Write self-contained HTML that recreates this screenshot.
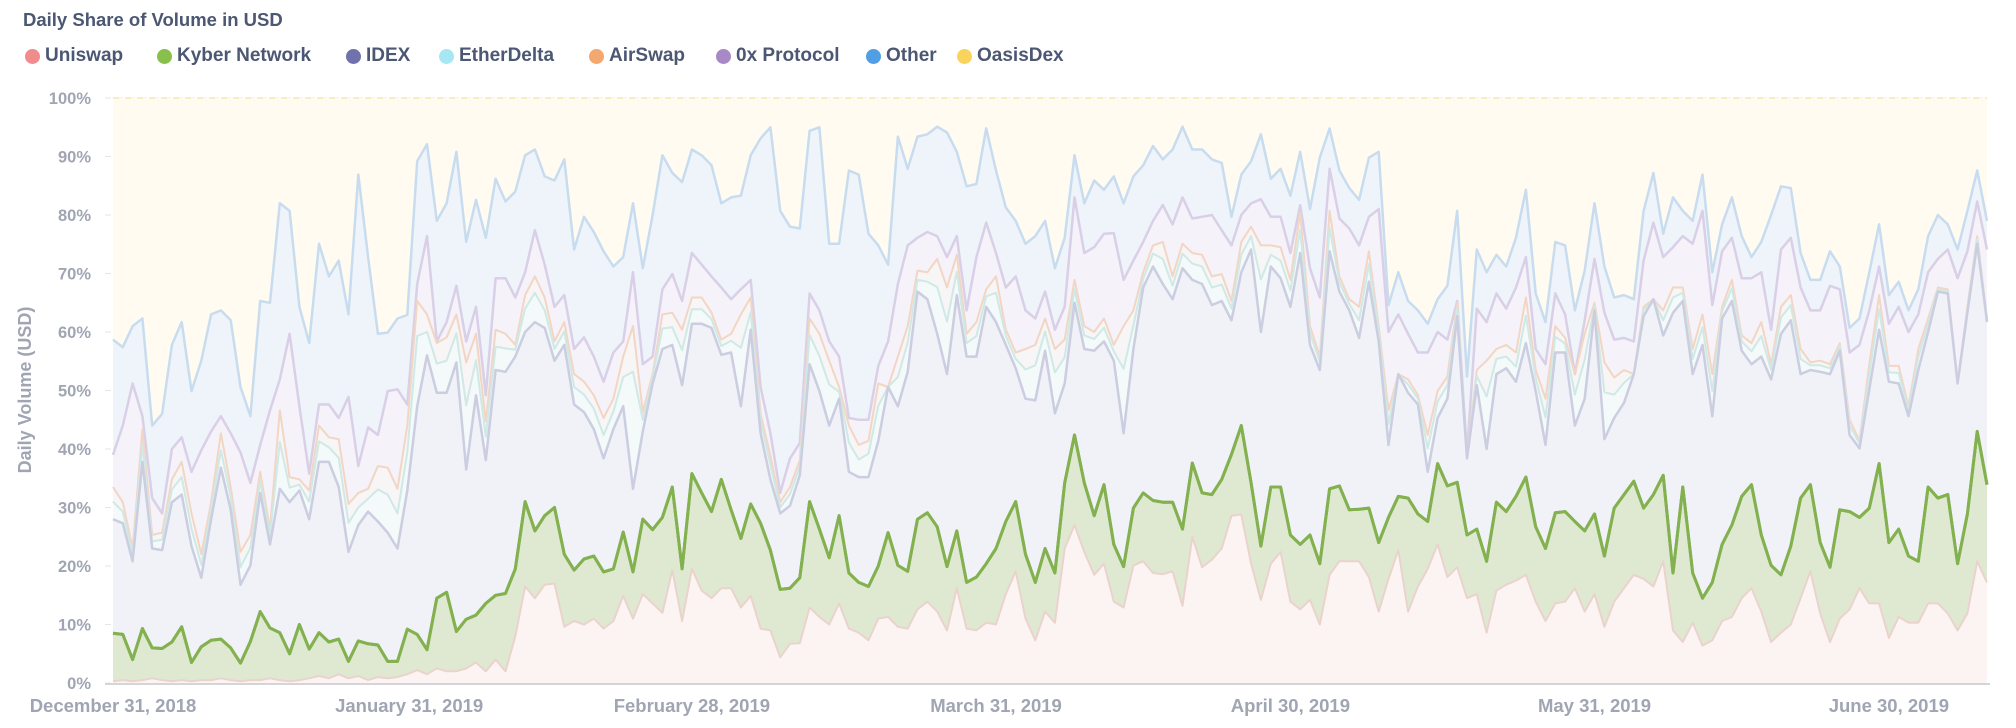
<!DOCTYPE html>
<html>
<head>
<meta charset="utf-8">
<style>
  html,body{margin:0;padding:0;background:#fff;}
  body{width:2016px;height:728px;overflow:hidden;position:relative;font-family:"Liberation Sans",sans-serif;}
  .title{position:absolute;left:23px;top:9px;font-size:18.5px;font-weight:bold;color:#4c5773;}
  .legend{position:absolute;left:0;top:45px;height:24px;}
  .lg{position:absolute;top:0;display:flex;align-items:center;font-size:19px;font-weight:bold;color:#4c5773;white-space:nowrap;}
  .dot{width:15px;height:15px;border-radius:50%;margin-right:5px;display:inline-block;}
</style>
</head>
<body>
<div class="title">Daily Share of Volume in USD</div>
<div class="legend">
  <div class="lg" style="left:25px"><span class="dot" style="background:#ef8c8c"></span>Uniswap</div>
  <div class="lg" style="left:157px"><span class="dot" style="background:#88bf4d"></span>Kyber Network</div>
  <div class="lg" style="left:346px"><span class="dot" style="background:#7172ad"></span>IDEX</div>
  <div class="lg" style="left:439px"><span class="dot" style="background:#a6e7f3"></span>EtherDelta</div>
  <div class="lg" style="left:589px"><span class="dot" style="background:#f2a86f"></span>AirSwap</div>
  <div class="lg" style="left:716px"><span class="dot" style="background:#a989c5"></span>0x Protocol</div>
  <div class="lg" style="left:866px"><span class="dot" style="background:#509ee3"></span>Other</div>
  <div class="lg" style="left:957px"><span class="dot" style="background:#f9d45c"></span>OasisDex</div>
</div>
<svg id="chart" width="2016" height="728" style="position:absolute;left:0;top:0"></svg>
<script>
// Stacked cumulative share levels (% of daily USD volume), one value per day from Dec 31, 2018
const uniswapCum = [0.3,0.5,0.3,0.5,0.8,0.5,0.3,0.5,0.3,0.5,0.5,0.8,0.5,0.3,0.5,0.5,0.8,0.5,0.3,0.5,0.8,1.2,0.8,1.5,0.8,1.2,0.5,1,0.8,1,1.5,2.2,1.5,2.5,2,2,2.5,3.5,
2,4,2,8,16.5,14.5,16.8,17,9.6,10.6,10,11,9.3,10.6,14.9,11,15.2,13.6,12,19.3,10.6,19.5,15.8,14.5,16.2,16.2,12.9,14.9,9.3,9,4.4,6.7,6.8,12.9,11.3,10,13.6,9.3,8.6,
7.3,11,11.3,9.6,9.3,12.6,13.9,12.2,9,16.2,9.3,9,10.3,10,15.2,19.1,11,7.3,12.2,10.3,23,27,22.4,18.5,20.4,13.9,12.9,20.1,20.8,18.8,18.6,19.1,13.2,25,19.8,21.1,23,28.6,28.8,20.4,
14.2,20.4,22.4,13.9,12.6,14.2,10,18.5,20.8,20.8,20.8,18.1,12.2,17.8,22.7,12.2,16.5,19.5,23.7,18.1,19.8,14.5,15.2,8.6,15.8,16.8,17.5,18.5,13.9,10.6,13.6,13.9,16.2,12.2,15.2,9.6,13.9,
16.2,18.5,17.8,16.5,20.8,9,7,10.3,6.4,7.3,10.6,11.3,14.5,16.2,12.2,7,8.6,10,14.5,19.1,11.9,7,11,12.6,16.2,13.6,13.6,7.7,11.3,10.3,10.3,13.6,13.6,11.9,9,11.9,20.8,17.2];
const kyberCum = [8.5,8.3,4,9.3,6,5.9,7,9.6,3.5,6.2,7.3,7.5,6,3.4,7.1,12.2,9.4,8.6,5,10,5.8,8.6,7,7.5,3.7,7.2,6.7,6.5,3.7,3.7,9.2,8.3,5.7,14.5,15.5,8.8,10.9,11.6,13.6,15,
15.3,19.5,31,26,28.6,30,22,19.3,21.2,21.7,19,19.5,25.8,19,28,26.2,28.3,33.5,19.5,35.8,32.5,29.3,34.8,29.6,24.7,30.6,27.3,22.7,16,16.2,18,31,26.3,21.4,28.6,18.8,17.2,16.5,20,
25.7,20.1,19.1,28,29.1,26.7,19.9,26,17.2,18.1,20.4,23,27.6,31,22,17.2,23,18.8,34.2,42.4,34.2,28.6,33.9,23.7,19.9,29.9,32.5,31.2,30.9,30.9,26.3,37.6,32.5,32.2,34.8,39.1,44,34.2,
23.4,33.5,33.5,25.3,23.7,25.3,20.4,33.2,33.7,29.6,29.7,29.9,24,28.3,31.9,31.6,28.9,27.6,37.5,33.7,34.3,25.3,26.3,20.8,30.9,29.3,31.9,35.2,26.7,23,29.1,29.3,27.6,26,28.9,21.7,29.9,
32.2,34.5,29.9,32.2,35.5,18.8,33.5,18.8,14.5,17.2,23.7,27,31.9,33.9,25.3,20.1,18.5,23.4,31.6,33.9,24,19.8,29.6,29.3,28.3,29.9,37.5,24,26.3,21.7,20.8,33.5,31.6,32.2,20.4,28.9,43,33.9];
const idexCum = [28,27.3,20.8,37.8,23,22.7,30.9,32.2,23.4,18,28,36.8,29.6,16.8,20.1,32.5,23.7,33.2,30.9,32.9,28,37.8,37.8,33.5,22.4,27,29.3,27.6,25.7,23,32.9,47.3,56,49.6,49.6,54.8,36.5,49.2,38.1,53.5,
53.2,55.8,60,61.7,60.7,55.1,57.8,47.6,46.3,43.4,38.4,43.4,47.3,33.2,43,51.2,57.1,57.8,50.9,61.4,61.4,60.7,56.1,56.5,47.3,60.4,42.7,34.8,29,30.3,35.5,54.5,49.9,44,48.6,36.1,35.2,
35.2,41.4,50.6,47.3,53.2,66.9,65.6,59.7,52.8,66.3,55.8,55.8,64.3,61.7,57.8,53.8,48.6,48.3,56.8,46.1,51.2,65,57.1,56.8,58.4,55.1,42.7,57.1,67.6,71.2,68.2,65.6,70.9,68.9,68.2,64.6,65.3,62,70.2,74.1,
60,71.2,69.2,64.3,73.5,57.8,53.5,73.8,66.9,63.7,59,68.6,58.4,40.7,52.8,49.6,47.6,36.1,45.3,48.6,62.7,38.4,50.9,40,52.8,53.8,51.5,58.1,49.9,40.7,56.5,56.5,44,48.6,63.7,41.7,45.3,
47.9,52.8,62.7,65.6,59.4,63.3,65.3,52.8,57.8,45.6,62.3,65.3,56.8,54.5,55.8,51.9,59.7,62,52.8,53.5,53.2,52.8,56.8,42.4,40.1,50.2,60.4,51.5,51.2,45.6,53.5,60,66.9,66.6,51.2,63.3,75.1,61.7];
const etherDeltaShare = [3,2,1.2,3,1.2,1.8,2.2,3,3,2.2,1.6,3,2.2,3,3,2,1.5,8,2.5,1,3,3.5,2.5,5,5,3,2.2,5.5,6.5,6,6.5,12,4,5,5.5,5,11,6,4,4,
4,1.2,4,5,3,2,2.3,3,3,3.5,4,3,5,20,2,1,3.5,3,6,2.5,2.5,1.5,1.5,2,10,3,2,2.5,1,2,1.5,5,6,7,1.2,5,3,
4,6,0,5,5,2,3,8,9,4,2.3,3.5,1.8,5,1.5,1.6,5,6,3.3,7,4.5,2.3,2.3,2,2.3,1.6,11,4,1.5,2.2,4.3,2.3,2.5,2.8,3,3,2.8,2,3,2.3,
9,2,3,2.8,4,2,1.4,4,1.6,1.1,3,3,1.6,3.5,0,1.4,1,4,2.8,2.3,1.4,0.2,1.6,9,2.6,2,2.6,4.7,2.2,4.7,2.7,1.5,5.3,6.7,0.8,8,4,
3.4,0,1,0,2.6,2.6,1.4,2.6,3,4.3,1.2,2.2,1.6,2.2,3.5,1.6,2.8,2.6,2.6,0.8,1.1,1,0.8,1.6,0.8,2.6,3.5,1.6,1.8,1,2.2,1.4,0.4,0.4,0.2,0.6,0.8,0.4];
const airSwapCum = [33.5,30.9,23,43.4,25.3,25.7,34.8,37.8,29,22,30.9,42.7,33.5,22.4,25.3,36.1,26.3,46.6,35.2,34.8,32.9,44,42,41.7,30.6,32.5,33.2,37.1,36.8,33.2,44,65.3,63,58.1,59.1,63,54.8,59.7,44.7,60.4,
59.7,57.8,66.3,69.5,65.9,58.4,61.7,52.8,51.5,49.2,45.3,48.6,55.8,61,46.3,52.8,63,63.3,60.4,65.9,65.9,63.3,58.7,59.7,63,65.9,46,38.8,30.9,33.5,38.1,62.3,59.7,55.1,50.6,44,40.7,
41.4,51.2,49.9,55.8,61,70.5,70.2,72.5,67.6,73.2,59.7,61.7,67.3,69.5,60.4,56.5,57.1,57.8,62.3,57.1,58.7,68.9,61,60,62.3,57.8,61,63.7,70.2,74.8,75.4,69.5,75.1,73.5,73.2,69.5,69.9,65.3,75.4,78,
74.8,74.8,74.5,68.9,80.4,61,55.8,80.7,69.5,65.6,64.3,73.8,61,46.6,52.8,51.9,49.2,42.4,49.9,52.4,65,38.8,53.5,55.1,57.1,57.8,56.5,65.9,53.5,48.6,61,59,52.8,59.7,65,54.8,52.2,
53.5,51.9,64.3,65.6,63.7,67.6,67.6,57.1,63,52.8,64.3,68.9,59.4,58.1,61.7,54.5,64.3,66.3,57.1,54.8,55.1,54.5,58.1,45,41.4,54.5,66.3,54.2,54.2,47.3,57.1,62.3,67.6,67.3,51.5,64.3,76.4,62.3];
const zeroExCum = [39,44,51.2,45.6,31.6,29,40,42,36.1,39.8,43,45.6,42.7,39.4,34.2,40.7,46.6,51.9,59.7,47.3,35.8,47.6,47.6,45.3,48.9,37.1,43.7,42.4,49.9,50.2,47.6,68.2,76.4,58.4,61.7,67.9,58.4,64.3,49.2,69.2,
69.2,65.9,70.2,77.4,71.5,64.3,66.3,57.1,59.1,55.8,51.5,56.5,58.4,70.2,54.5,55.8,67.3,69.9,65.3,73.5,71.5,69.5,67.6,65.6,67.3,68.9,50.6,42.7,32.5,38.4,41,66.6,63.7,58.4,55.8,45.3,45,
45,54.2,58.4,68.2,74.8,76.1,77.1,76.4,72.8,76.4,63.7,72.8,78.7,73.5,67.6,69.5,63.7,62.3,66.9,60.4,64.3,83,73.5,74.5,76.8,76.9,68.9,72.2,75.4,79,81.7,78.4,83,79.4,79.7,80,77.4,74.8,80,82,
82.7,79.7,79.7,73.5,81.7,70.9,65.9,87.9,79.4,77.7,74.8,79.7,81,60,63,59.7,56.5,56.5,60,58.7,65.3,39.1,64,61.7,66.6,64,67.6,72.8,57.1,54.5,66.6,63,52.4,62,72.5,63.3,58.7,
59,58.4,72.2,78.7,72.8,74.5,76.4,75.1,80.7,64.6,73.8,76.1,69.2,69.2,70.2,60.4,74.1,76.1,67.6,63.7,63.7,67.9,67.3,56.5,57.8,63.7,71.2,61.4,64.3,60,63,70.2,72.5,74.1,69.2,73.8,82.3,74.1];
const otherCum = [58.7,57.4,61,62.3,44,46,57.8,61.7,49.9,55.1,63,63.7,62,50.6,45.6,65.3,65,82,80.7,64.3,58.1,75.1,69.5,72.2,63,86.9,72.8,59.7,59.9,62.3,62.9,89.2,92.1,79,82,90.8,75.4,82.6,76.1,86.2,
82.3,84,90.2,91.2,86.6,85.9,89.5,74.1,79.7,77.1,73.8,71.2,72.8,82,70.9,80,90.2,87.2,85.6,91.2,90.2,88.5,82,83,83.3,90.2,93.1,95,80.7,78,77.7,94.4,95,75.1,75.1,87.6,86.9,
76.8,74.8,71.5,93.4,87.9,93.4,93.8,95.1,94.1,90.8,84.9,85.3,94.8,87.6,81.3,79,75.1,76.4,79,70.9,76.1,90.2,82,85.9,84.3,86.6,82,86.6,88.5,91.8,89.5,91.2,95.1,91.2,91.2,89.5,88.9,79.7,86.9,89.2,
93.8,86.2,87.9,83.3,90.8,81,89.8,94.8,87.6,84.6,82.6,89.8,90.8,64.6,70.2,65.3,63.7,61.4,65.6,67.9,80.7,52.4,74.1,70.2,73.2,71.2,76.1,84.3,66.6,61.7,75.4,74.8,63.7,70.5,82,71.2,65.9,
66.3,65.6,80.7,87.2,76.8,83,80.7,79,86.9,70.2,78.4,83,76.4,72.8,75.4,80,84.9,84.6,73.5,68.9,68.9,73.8,71.2,60.7,62.3,70.2,78.4,66.3,68.6,63.7,67.3,76.4,80,78.4,74.1,80.7,87.6,79];
const yTicks = [0,10,20,30,40,50,60,70,80,90,100];
const xTickDays = [0,31,59,90,120,151,181];
const xTickLabels = ["December 31, 2018","January 31, 2019","February 28, 2019","March 31, 2019","April 30, 2019","May 31, 2019","June 30, 2019"];

const NS = "http://www.w3.org/2000/svg";
const svg = document.getElementById('chart');
const X0 = 113, X1 = 1987, Y0 = 683, Y1 = 98;
const nDays = otherCum.length;
const xs = d => X0 + d * (X1 - X0) / (nDays - 1);
const ys = v => Y0 - v * (Y0 - Y1) / 100;

function mk(tag, attrs) { const e = document.createElementNS(NS, tag); for (const k in attrs) e.setAttribute(k, attrs[k]); svg.appendChild(e); return e; }

const L = [];
for (let i = 0; i < nDays; i++) {
  const u = uniswapCum[i];
  const k = Math.max(u, kyberCum[i]);
  const id = Math.max(k, idexCum[i]);
  const ed = id + etherDeltaShare[i];
  const air = Math.max(ed, airSwapCum[i]);
  const zx = Math.max(air, zeroExCum[i]);
  const ot = Math.max(zx, otherCum[i]);
  L.push([u, k, id, Math.min(ed, air), air, zx, ot, 100]);
}

const series = [
  {name:'oasisdex', fill:'#fffbf1', stroke:'#f7e7b3', w:1.5},
  {name:'other', fill:'#eff4fa', stroke:'#c8dcef', w:2.5},
  {name:'0x-protocol', fill:'#f6f2f9', stroke:'#d9cfe7', w:2.5},
  {name:'airswap', fill:'#f8f5f6', stroke:'#f2d6c4', w:2},
  {name:'etherdelta', fill:'#f4f9fa', stroke:'#cfe9e6', w:2},
  {name:'idex', fill:'#f1f2f8', stroke:'#cbcde0', w:2.5},
  {name:'kyber-network', fill:'#dfe9d1', stroke:'#84b150', w:3},
  {name:'uniswap', fill:'#fcf4f3', stroke:'#ead3cd', w:2}
];
const lvl = {oasisdex:7, other:6, '0x-protocol':5, airswap:4, etherdelta:3, idex:2, 'kyber-network':1, uniswap:0};

for (const t of yTicks) {
  const g = mk('line', {x1:X0-8, x2:X1, y1:ys(t), y2:ys(t), stroke:'#e6e6e6', 'stroke-width':1, 'stroke-dasharray':'6,6'});
  
  
}

for (const s of series) {
  const li = lvl[s.name];
  let d = 'M' + xs(0) + ',' + ys(0);
  for (let i = 0; i < nDays; i++) d += 'L' + xs(i).toFixed(1) + ',' + ys(L[i][li]).toFixed(1);
  d += 'L' + xs(nDays - 1) + ',' + ys(0) + 'Z';
  const p = mk('path', {d:d, fill:s.fill, stroke:'none'});
  
  
}
for (const s of series) {
  const li = lvl[s.name];
  let d = '';
  for (let i = 0; i < nDays; i++) d += (i ? 'L' : 'M') + xs(i).toFixed(1) + ',' + ys(L[i][li]).toFixed(1);
  const p = mk('path', {d:d, fill:'none', stroke:s.stroke, 'stroke-width':s.w, 'stroke-linejoin':'round'});
  if (s.name === 'oasisdex') p.setAttribute('stroke-dasharray', '6,6');
  
  
}
{
  let d = '';
  for (let i = 0; i < nDays; i++) d += (i ? 'L' : 'M') + xs(i).toFixed(1) + ',' + ys(L[i][1]).toFixed(1);
  const p = mk('path', {d:d, fill:'none', stroke:'#84b150', 'stroke-width':3, 'stroke-linejoin':'round'});
  
  
}

const ax = mk('line', {x1:X0-8, x2:X1+3, y1:Y0+1, y2:Y0+1, stroke:'#d3d5da', 'stroke-width':2});



for (const t of yTicks) {
  const tx = mk('text', {x:91, y:ys(t) + 6, 'text-anchor':'end', 'font-size':16.5, 'font-weight':'bold', fill:'#a0a5b3', 'font-family':'Liberation Sans, sans-serif'});
  tx.textContent = t + '%';
  
  
}
xTickDays.forEach((d, i) => {
  const tx = mk('text', {x:xs(d) - (i === 1 ? 8 : 0), y:712, 'text-anchor':'middle', 'font-size':18.5, 'font-weight':'bold', fill:'#a0a5b3', 'font-family':'Liberation Sans, sans-serif'});
  tx.textContent = xTickLabels[i];
  
  
});
const yt = mk('text', {x:0, y:0, transform:'translate(31,390) rotate(-90)', 'text-anchor':'middle', 'font-size':18, 'font-weight':'bold', fill:'#a0a5b3', 'font-family':'Liberation Sans, sans-serif'});
yt.textContent = 'Daily Volume (USD)';


</script>
</body>
</html>
